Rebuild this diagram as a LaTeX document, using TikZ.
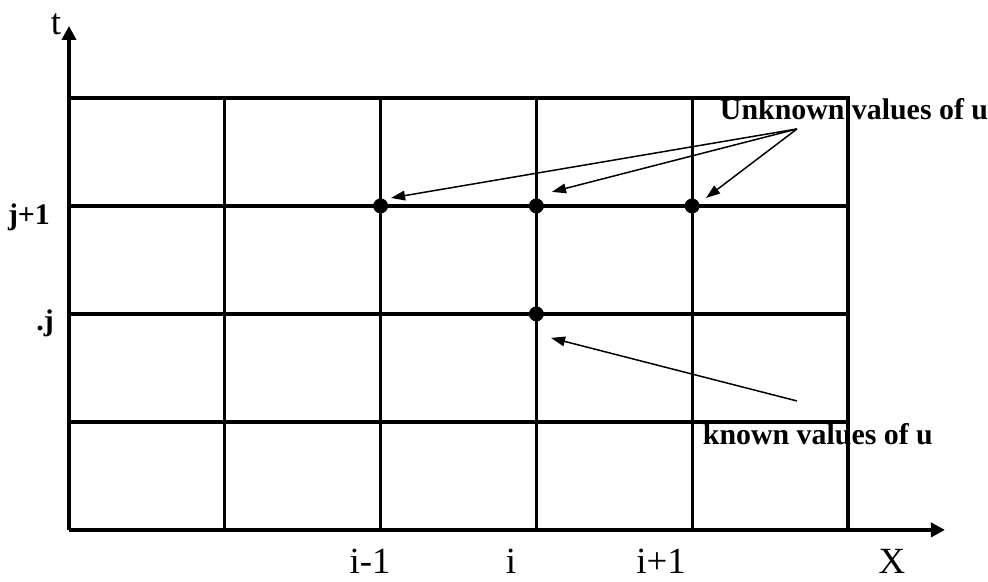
\documentclass[tikz,border=0pt]{standalone}
\usepackage{fontspec}
\setmainfont{Liberation Serif}
\usetikzlibrary{arrows.meta, calc}

\begin{document}
\begin{tikzpicture}[x=3.116cm, y=2.16cm,
   gridline/.style={line width=1.9pt, line cap=rect},
   axis/.style={line width=2pt, -{Triangle[length=8pt, width=8pt]}},
   ptr/.style={line width=0.85pt, -{Triangle[length=8pt, width=5.5pt]}},
   dot/.style={circle, fill=black, inner sep=0pt, minimum size=8.5pt},
   axlbl/.style={font=\fontsize{21}{25}\selectfont, anchor=base, inner sep=0pt},
   ptlbl/.style={font=\fontsize{17}{20}\selectfont\bfseries, anchor=base, inner sep=0pt}]
   \useasboundingbox (-0.443,-0.481) rectangle (5.899,4.907);
   % Grid
   \foreach \i in {1,...,5} \draw[gridline] (\i,0) -- (\i,4);
   \foreach \j in {1,...,4} \draw[gridline] (0,\j) -- (5,\j);
   % Axes
   \coordinate (O) at (0,0);
   \coordinate (xend) at (5.623,0);
   \coordinate (tend) at (0,4.667);
   \draw[axis] (O) -- (xend);
   \draw[axis] (O) -- (tend);
   \node[axlbl] (tlbl) at (-0.083,4.59) {t};
   \node[axlbl] (xlbl) at (5.282,-0.40) {X};
   % Index labels
   \node[axlbl] (im1) at (1.932,-0.40) {i-1};
   \node[axlbl] (i0) at (2.837,-0.40) {i};
   \node[axlbl] (ip1) at (3.800,-0.40) {i+1};
   \node[ptlbl] (jp1) at (-0.257,2.824) {j+1};
   \node[ptlbl] (j0) at (-0.154,1.85) {.j};
   % Grid points
   \node[dot] (a) at (2,3) {};
   \node[dot] (b) at (3,3) {};
   \node[dot] (c) at (4,3) {};
   \node[dot] (d) at (3,2) {};
   % Unknown values
   \node[ptlbl] (unk) at (5.039,3.796) {Unknown values of u};
   \coordinate (utail) at (4.673,3.713);
   \coordinate (atip) at ($(a)+(0.067,0.074)$);
   \coordinate (btip) at ($(b)+(0.100,0.130)$);
   \coordinate (ctip) at ($(c)+(0.089,0.074)$);
   \draw[ptr] (utail) -- (atip);
   \draw[ptr] (utail) -- (btip);
   \draw[ptr] (utail) -- (ctip);
   % Known values
   \node[ptlbl] (kno) at (4.807,0.787) {known values of u};
   \coordinate (ktail) at (4.673,1.194);
   \coordinate (dtip) at ($(d)+(0.094,-0.222)$);
   \draw[ptr] (ktail) -- (dtip);
\end{tikzpicture}
\end{document}
